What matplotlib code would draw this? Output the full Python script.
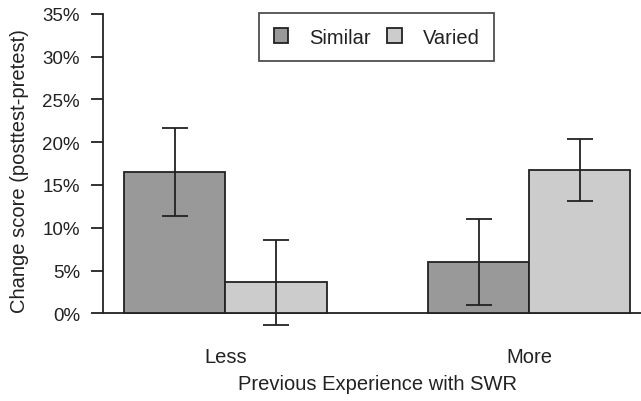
import matplotlib
matplotlib.use('Agg')
import matplotlib.pyplot as plt
import numpy as np

plt.rcParams['font.family'] = ['Liberation Sans', 'DejaVu Sans']

groups = ['Less', 'More']
series = ['Similar', 'Varied']
similar = [16.5, 6.0]
varied = [3.6, 16.7]
similar_lo = [11.4, 1.0]
similar_hi = [21.7, 11.0]
varied_lo = [-1.4, 13.1]
varied_hi = [8.6, 20.4]
yticks = [0, 5, 10, 15, 20, 25, 30, 35]

col_sim = '#999999'
col_var = '#cccccc'
ink = '#222222'

W, H = 641, 402
fig = plt.figure(figsize=(W / 100, H / 100), dpi=100)

# pixel layout: 0% at y=314.3, 35% at y=14.7 ; axis line at x=103
ppu_y = (314.3 - 14.7) / 35
ax_top, ax_bot = 8, 335
ax_left, ax_right = 103, 641
ax = fig.add_axes([ax_left / W, (H - ax_bot) / H, (ax_right - ax_left) / W, (ax_bot - ax_top) / H])
ax.set_ylim(-(ax_bot - 314.3) / ppu_y, 35 + (14.7 - ax_top) / ppu_y)
ppu_x = 101.3
ax.set_xlim(1 - (124 - ax_left) / ppu_x, 1 + (ax_right - 124) / ppu_x)

centers = np.array([2, 5])
x_sim = centers - 0.5
x_var = centers + 0.5
sim_err = [np.array(similar) - np.array(similar_lo), np.array(similar_hi) - np.array(similar)]
var_err = [np.array(varied) - np.array(varied_lo), np.array(varied_hi) - np.array(varied)]

lw = 1.3
ax.bar(x_sim, similar, width=1, color=col_sim, edgecolor=ink, linewidth=lw, label=series[0], zorder=2)
ax.bar(x_var, varied, width=1, color=col_var, edgecolor=ink, linewidth=lw, label=series[1], zorder=2)
ax.errorbar(x_sim, similar, yerr=sim_err, fmt='none', ecolor=ink, elinewidth=lw, capsize=9.7, capthick=lw, zorder=3)
ax.errorbar(x_var, varied, yerr=var_err, fmt='none', ecolor=ink, elinewidth=lw, capsize=9.7, capthick=lw, zorder=3)
ax.axhline(0, color=ink, linewidth=lw, zorder=1)

for s in ['top', 'right', 'bottom']:
    ax.spines[s].set_visible(False)
ax.spines['left'].set_bounds(0, 35)
ax.spines['left'].set_color(ink)
ax.spines['left'].set_linewidth(lw)
ax.set_yticks(yticks)
ax.set_yticklabels(['%d%%' % t for t in yticks])
ax.tick_params(axis='y', length=8.5, width=lw, color=ink, labelsize=13.5, labelcolor=ink, pad=8)
ax.set_xticks([])

for c, g in zip(centers, groups):
    ax.text(c, -(358 - 314.3) / ppu_y, g, ha='center', va='center', fontsize=14.5, color=ink)

fig.text(377 / W, 1 - 385 / H, 'Previous Experience with SWR', ha='center', va='center', fontsize=14.5, color=ink)
fig.text(20 / W, 1 - 171 / H, 'Change score (posttest-pretest)', ha='center', va='center', rotation=90, fontsize=14.5, color=ink)

leg = ax.legend(loc='upper left', bbox_to_anchor=(259 / W, 1 - 14 / H), bbox_transform=fig.transFigure,
                ncol=2, frameon=True, fancybox=False, edgecolor=ink, fontsize=14.5,
                handlelength=0.7, handleheight=0.7, handletextpad=1.05, columnspacing=0.85,
                borderpad=0.72, borderaxespad=0)
leg.get_frame().set_linewidth(lw)
for t in leg.get_texts():
    t.set_color(ink)

fig.savefig('out.png', dpi=100)
